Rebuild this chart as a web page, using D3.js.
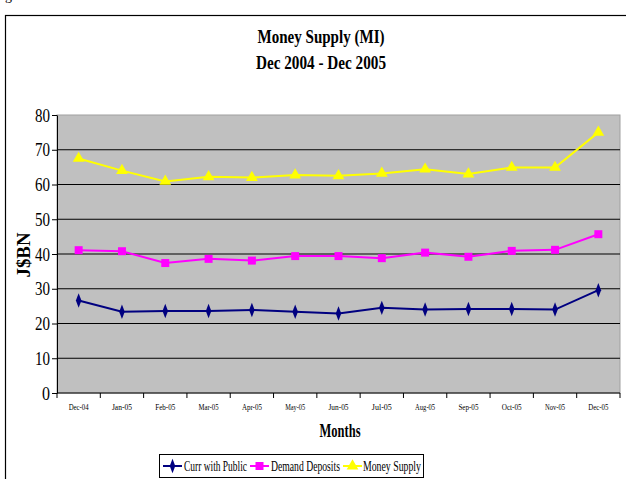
<!DOCTYPE html>
<html>
<head>
<meta charset="utf-8">
<script src="https://cdn.jsdelivr.net/npm/d3@7"></script>
<style>
  body { margin: 0; background: #fff; }
  text { font-family: "Liberation Serif", "Times New Roman", serif; }
</style>
</head>
<body>
<script>
const width = 626
const height = 479

// data
const months = ['Dec-04','Jan-05','Feb-05','Mar-05','Apr-05','May-05','Jun-05','Jul-05','Aug-05','Sep-05','Oct-05','Nov-05','Dec-05']
const currWithPublic = [26.6, 23.4, 23.6, 23.6, 23.9, 23.4, 22.9, 24.5, 24.0, 24.2, 24.2, 24.0, 29.6]
const demandDeposits = [41.1, 40.8, 37.4, 38.6, 38.1, 39.4, 39.4, 38.8, 40.4, 39.2, 40.9, 41.2, 45.7]
const moneySupply = [67.5, 64.0, 60.9, 62.2, 62.0, 62.7, 62.5, 63.2, 64.4, 63.0, 64.9, 64.9, 75.0]
const yTicks = [0, 10, 20, 30, 40, 50, 60, 70, 80]

const series = [
  {name: 'Curr with Public', values: currWithPublic, color: '#000080', symbol: 'diamond'},
  {name: 'Demand Deposits', values: demandDeposits, color: '#FF00FF', symbol: 'square'},
  {name: 'Money Supply', values: moneySupply, color: '#FFFF00', symbol: 'triangle'}
]

const plot = {left: 57, right: 620, top: 115, bottom: 393}

const svg = d3.select('body').append('svg')
  .attr('width', width)
  .attr('height', height)

// caption above the frame, only its descender shows in the crop
svg.append('text').attr('x', 5).attr('y', 0).attr('font-size', 14).text('g')
svg.append('rect')
  .attr('x', 5.5).attr('y', 15.5)
  .attr('width', 640).attr('height', 480)
  .attr('fill', 'none').attr('stroke', '#000').attr('stroke-width', 1.2)

const x = d3.scaleBand().domain(months).range([plot.left, plot.right])
const y = d3.scaleLinear().domain([0, 80]).range([plot.bottom, plot.top])

svg.append('rect')
  .attr('x', plot.left).attr('y', plot.top)
  .attr('width', plot.right - plot.left).attr('height', plot.bottom - plot.top)
  .attr('fill', '#C0C0C0').attr('stroke', '#a0a0a0')

// gridlines
svg.append('g')
  .selectAll('line')
  .data(yTicks.filter(d => d > 0 && d < 80))
  .enter().append('line')
    .attr('x1', plot.left).attr('x2', plot.right)
    .attr('y1', d => y(d)).attr('y2', d => y(d))
    .attr('stroke', '#000').attr('stroke-width', 1)

// y axis
const yAxis = svg.append('g')
  .attr('transform', `translate(${plot.left},0)`)
  .call(d3.axisLeft(y).tickValues(yTicks).tickSize(5).tickSizeOuter(0))
yAxis.select('.domain').attr('stroke', '#000')
yAxis.selectAll('text')
  .attr('font-size', 18)
  .attr('x', -7)
  .attr('dy', '0.34em')
  .attr('textLength', d => d === 0 ? 8 : 15)
  .attr('lengthAdjust', 'spacingAndGlyphs')
  .attr('fill', '#000')

// x axis: ticks at category boundaries
svg.append('line')
  .attr('x1', plot.left).attr('x2', plot.right)
  .attr('y1', plot.bottom).attr('y2', plot.bottom)
  .attr('stroke', '#000')
svg.append('g')
  .selectAll('line')
  .data(months.concat(['end']))
  .enter().append('line')
    .attr('x1', (d, i) => plot.left + i * x.step())
    .attr('x2', (d, i) => plot.left + i * x.step())
    .attr('y1', plot.bottom).attr('y2', plot.bottom + 5)
    .attr('stroke', '#000')
svg.append('g')
  .selectAll('text')
  .data(months)
  .enter().append('text')
    .attr('x', d => x(d) + x.bandwidth() / 2)
    .attr('y', 410)
    .attr('text-anchor', 'middle')
    .attr('font-size', 9)
    .attr('textLength', 20)
    .attr('lengthAdjust', 'spacingAndGlyphs')
    .text(d => d)

// lines and markers
const line = d3.line()
  .x((d, i) => x(months[i]) + x.bandwidth() / 2)
  .y(d => y(d))

const symbolOf = {
  diamond: d3.symbol().type(d3.symbolDiamond).size(42),
  square: d3.symbol().type(d3.symbolSquare).size(64),
  triangle: d3.symbol().type(d3.symbolTriangle).size(60)
}

series.forEach(s => {
  svg.append('path')
    .datum(s.values)
    .attr('d', line)
    .attr('fill', 'none')
    .attr('stroke', s.color)
    .attr('stroke-width', 2)
  svg.append('g')
    .selectAll('path')
    .data(s.values)
    .enter().append('path')
      .attr('transform', (d, i) => `translate(${x(months[i]) + x.bandwidth() / 2},${y(d)})` + (s.symbol === 'diamond' ? ' scale(0.8,1.2)' : ''))
      .attr('d', symbolOf[s.symbol]())
      .attr('fill', s.color)
})

// titles
svg.append('text')
  .attr('x', 321).attr('y', 43)
  .attr('text-anchor', 'middle')
  .attr('font-size', 19).attr('font-weight', 'bold')
  .attr('textLength', 127).attr('lengthAdjust', 'spacingAndGlyphs')
  .text('Money Supply (MI)')
svg.append('text')
  .attr('x', 321).attr('y', 69)
  .attr('text-anchor', 'middle')
  .attr('font-size', 19).attr('font-weight', 'bold')
  .attr('textLength', 130).attr('lengthAdjust', 'spacingAndGlyphs')
  .text('Dec 2004 - Dec 2005')

svg.append('text')
  .attr('transform', 'translate(30,255) rotate(-90)')
  .attr('text-anchor', 'middle')
  .attr('font-size', 18).attr('font-weight', 'bold')
  .attr('textLength', 45).attr('lengthAdjust', 'spacingAndGlyphs')
  .text('J$BN')

svg.append('text')
  .attr('x', 340).attr('y', 437)
  .attr('text-anchor', 'middle')
  .attr('font-size', 18).attr('font-weight', 'bold')
  .attr('textLength', 41).attr('lengthAdjust', 'spacingAndGlyphs')
  .text('Months')

// legend
const legend = svg.append('g')
legend.append('rect')
  .attr('x', 159.5).attr('y', 454.5)
  .attr('width', 264).attr('height', 23)
  .attr('fill', '#fff').attr('stroke', '#000')

const legendItems = [
  {s: series[0], x0: 163, tx: 184, tw: 63},
  {s: series[1], x0: 250, tx: 271, tw: 69},
  {s: series[2], x0: 343, tx: 363, tw: 58}
]
legendItems.forEach(it => {
  legend.append('line')
    .attr('x1', it.x0).attr('x2', it.x0 + 19)
    .attr('y1', 466).attr('y2', 466)
    .attr('stroke', it.s.color).attr('stroke-width', 2)
  legend.append('path')
    .attr('transform', `translate(${it.x0 + 9.5},466)` + (it.s.symbol === 'diamond' ? ' scale(0.8,1.2)' : ''))
    .attr('d', symbolOf[it.s.symbol]())
    .attr('fill', it.s.color)
  legend.append('text')
    .attr('x', it.tx).attr('y', 471)
    .attr('font-size', 14)
    .attr('textLength', it.tw).attr('lengthAdjust', 'spacingAndGlyphs')
    .text(it.s.name)
})
</script>
</body>
</html>
